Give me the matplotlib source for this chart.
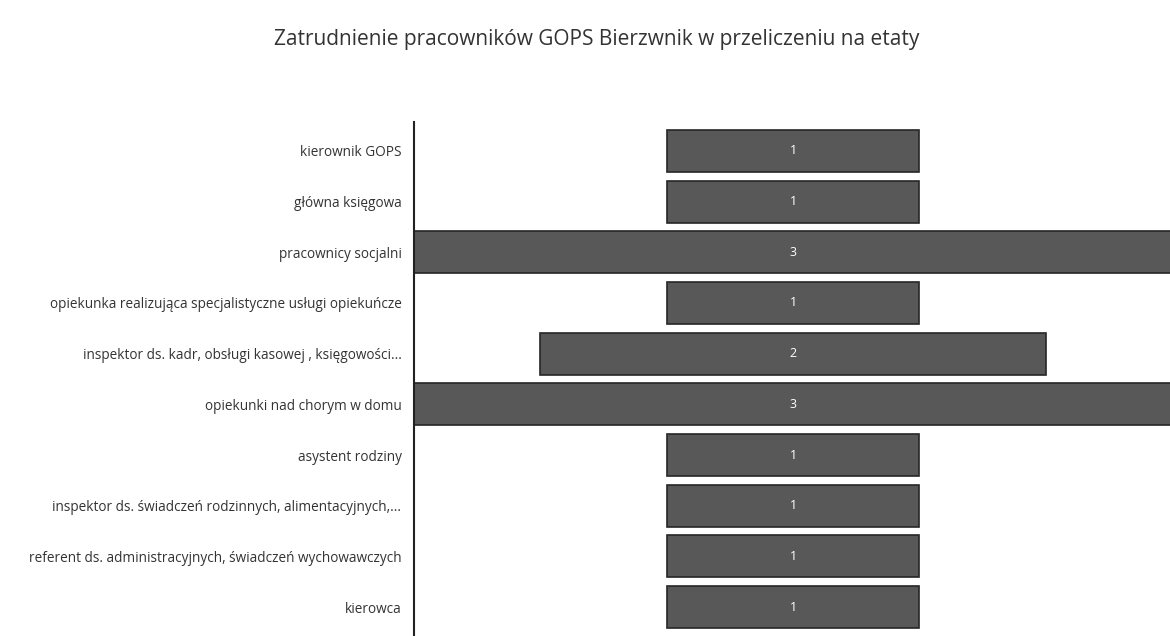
import matplotlib
matplotlib.use("Agg")
import matplotlib.pyplot as plt

title = "Zatrudnienie pracowników GOPS Bierzwnik w przeliczeniu na etaty"
categories = [
    "kierownik GOPS",
    "główna księgowa",
    "pracownicy socjalni",
    "opiekunka realizująca specjalistyczne usługi opiekuńcze",
    "inspektor ds. kadr, obsługi kasowej , księgowości...",
    "opiekunki nad chorym w domu",
    "asystent rodziny",
    "inspektor ds. świadczeń rodzinnych, alimentacyjnych,...",
    "referent ds. administracyjnych, świadczeń wychowawczych",
    "kierowca",
]
values = [1, 1, 3, 1, 2, 3, 1, 1, 1, 1]

plt.rcParams['font.family'] = ['Open Sans', 'DejaVu Sans']

fig = plt.figure(figsize=(11.7, 6.36), dpi=100, facecolor='white')
ax = fig.add_axes([414/1170, 0/636, (1172-414)/1170, (636-122)/636])
ax.set_facecolor('white')

n = len(categories)
ys = list(range(n))
lefts = [-v/2 for v in values]
ax.barh(ys, values, left=lefts, height=0.83, color='#585858',
        edgecolor='#262626', linewidth=1.2)
for y, v in zip(ys, values):
    ax.text(0, y, str(v), ha='center', va='center', color='white', fontsize=9)

ax.set_xlim(-1.5, 1.5)
ax.set_ylim(n - 0.5 + 0.07, -0.5 - 0.07)
ax.set_yticks(ys)
ax.set_yticklabels(categories, fontsize=9.8, color='#333333')
ax.tick_params(axis='y', length=0, pad=9)
ax.set_xticks([])
for s in ['top', 'right', 'bottom']:
    ax.spines[s].set_visible(False)
ax.spines['left'].set_color('#222222')
ax.spines['left'].set_linewidth(1.5)

fig.text(597/1170, 1 - 40/636, title, ha='center', va='center',
         fontsize=15, color='#333333')

fig.savefig('out.png', dpi=100, facecolor='white')
